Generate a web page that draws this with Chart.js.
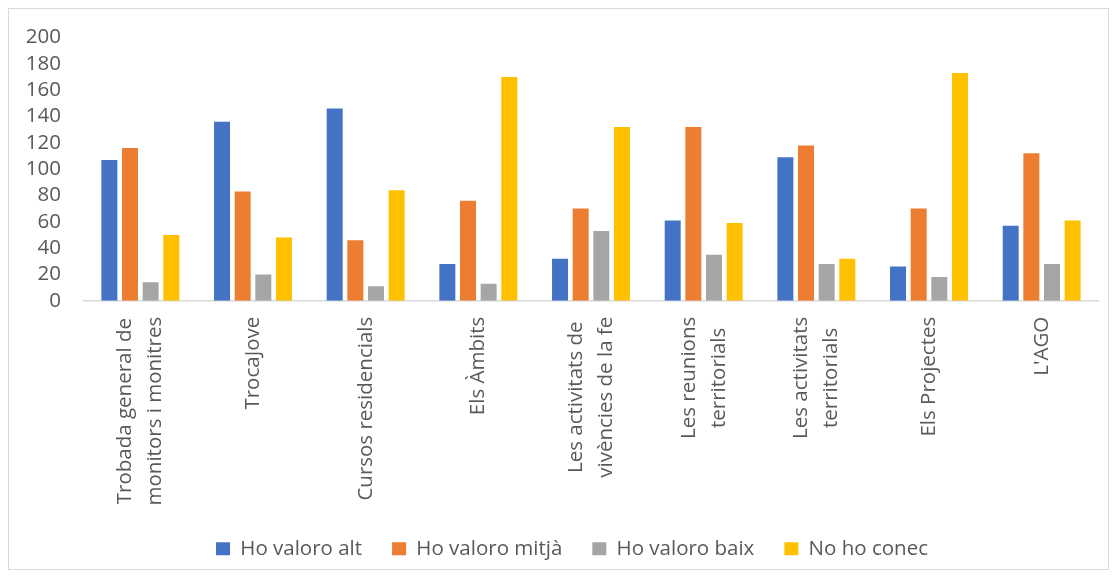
<!DOCTYPE html>
<html>
<head>
<meta charset="utf-8">
<script src="https://cdn.jsdelivr.net/npm/chart.js@4"></script>
<style>
body{margin:0;background:#fff}
#wrap{position:absolute;left:8px;top:8px;width:1099px;height:560px;border:1px solid #d9d9d9}
</style>
</head>
<body>
<div id="wrap"><canvas id="myChart" width="1099" height="560"></canvas></div>
<script>
// categories (each line of a label is an item)
const categories = [
  ["Trobada general de", "monitors i monitres"],
  ["TrocaJove"],
  ["Cursos residencials"],
  ["Els Àmbits"],
  ["Les activitats de", "vivències de la fe"],
  ["Les reunions", "territorials"],
  ["Les activitats", "territorials"],
  ["Els Projectes"],
  ["L'AGO"]
];
const seriesNames = ["Ho valoro alt", "Ho valoro mitjà", "Ho valoro baix", "No ho conec"];
const valoroAlt   = [107, 136, 146, 28, 32, 61, 109, 26, 57];
const valoroMitja = [116, 83, 46, 76, 70, 132, 118, 70, 112];
const valoroBaix  = [14, 20, 11, 13, 53, 35, 28, 18, 28];
const noHoConec   = [50, 48, 84, 170, 132, 59, 32, 173, 61];
const barColors = ["#4472C4", "#ED7D31", "#A5A5A5", "#FFC000"];
const yMin = 0, yMax = 200, yStep = 20;

const textColor = "#595959";
const fontFamily = '"Open Sans", "Liberation Sans", sans-serif';
const fontSize = 20.5;

// x labels drawn rotated, lines centred on the tick
const xLabels = {
  id: "xLabels",
  afterLayout(chart) {
    // excel centres the legend a bit to the right
    chart.legend.left += 20;
  },
  afterDraw(chart) {
    const ctx = chart.ctx;
    const x = chart.scales.x;
    const top = x.top + 16;
    const lineGap = 30;
    ctx.save();
    ctx.font = fontSize + "px " + fontFamily;
    ctx.fillStyle = textColor;
    ctx.textAlign = "center";
    ctx.textBaseline = "middle";
    categories.forEach(function (lines, i) {
      const px = x.getPixelForTick(i);
      let maxW = 0;
      lines.forEach(function (l) { maxW = Math.max(maxW, ctx.measureText(l).width); });
      lines.forEach(function (l, j) {
        ctx.save();
        ctx.translate(px + (j - (lines.length - 1) / 2) * lineGap, top + maxW / 2);
        ctx.rotate(-Math.PI / 2);
        ctx.fillText(l, 0, 0);
        ctx.restore();
      });
    });
    ctx.restore();
  }
};

const allValues = [valoroAlt, valoroMitja, valoroBaix, noHoConec];

new Chart("myChart", {
  type: "bar",
  data: {
    labels: categories,
    datasets: seriesNames.map(function (name, k) {
      return {
        label: name,
        data: allValues[k],
        backgroundColor: barColors[k],
        borderWidth: 0,
        categoryPercentage: 0.733,
        barPercentage: 0.774
      };
    })
  },
  options: {
    responsive: false,
    animation: false,
    layout: { padding: { left: 17, top: 16, right: 10, bottom: 0 } },
    scales: {
      x: {
        grid: { display: false },
        border: { color: "#D9D9D9", width: 1.5 },
        ticks: { display: false },
        afterFit: function (s) { s.height = 207.75; }
      },
      y: {
        min: yMin,
        max: yMax,
        grid: { display: false, drawTicks: false },
        border: { display: false },
        ticks: {
          stepSize: yStep,
          autoSkip: false,
          padding: 23,
          color: textColor,
          // small lineHeight keeps the top label padding tight
          font: { family: fontFamily, size: fontSize, lineHeight: 0.54 }
        },
        afterFit: function (s) { s.width = 58; }
      }
    },
    plugins: {
      legend: {
        position: "bottom",
        maxHeight: 64.25,
        labels: {
          boxWidth: 14,
          boxHeight: 13,
          padding: 30,
          color: textColor,
          font: { family: fontFamily, size: fontSize }
        }
      },
      tooltip: { enabled: false }
    }
  },
  plugins: [xLabels]
});
</script>
</body>
</html>
